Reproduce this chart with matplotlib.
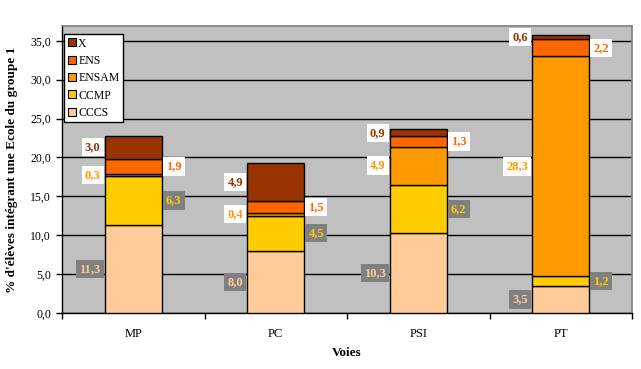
import numpy as np
import matplotlib.pyplot as plt
from matplotlib.lines import Line2D

# Données
voies = ['MP', 'PC', 'PSI', 'PT']
series = ['CCCS', 'CCMP', 'ENSAM', 'ENS', 'X']
cccs = [11.3, 8.0, 10.3, 3.5]
ccmp = [6.3, 4.5, 6.2, 1.2]
ensam = [0.3, 0.4, 4.9, 28.3]
ens = [1.9, 1.5, 1.3, 2.2]
x_ecole = [3.0, 4.9, 0.9, 0.6]

couleurs = ['#FFCC99', '#FFCC00', '#FF9900', '#FF6600', '#993300']
# étiquettes : côté (gauche/droite) et fond de la boîte
cotes = ['left', 'right', 'left', 'right', 'left']
fonds = ['#808080', '#808080', 'white', 'white', 'white']

plt.rcParams['font.family'] = ['Liberation Serif', 'DejaVu Serif']

fig = plt.figure(figsize=(6.41, 3.69), dpi=100)
ax = fig.add_axes([62 / 641, 1 - 313 / 369, 570 / 641, 287 / 369])
ax.set_facecolor('#C0C0C0')

pos = np.arange(len(voies))
largeur = 0.4
bas = np.zeros(len(voies))
valeurs = [cccs, ccmp, ensam, ens, x_ecole]

for nom, vals, coul, cote, fond in zip(series, valeurs, couleurs, cotes, fonds):
    vals = np.array(vals)
    ax.bar(pos, vals, largeur, bottom=bas, color=coul, edgecolor='black',
           linewidth=1.0, zorder=3)
    for i, v in enumerate(vals):
        milieu = bas[i] + v / 2
        if cote == 'left':
            xy = (pos[i] - largeur / 2, milieu)
            dx, ha = -3, 'right'
        else:
            xy = (pos[i] + largeur / 2, milieu)
            dx, ha = 3, 'left'
        ax.annotate(f'{v:.1f}'.replace('.', ','), xy=xy, xytext=(dx, 0),
                    textcoords='offset points', ha=ha, va='center',
                    fontsize=9, fontweight='bold', color=coul, zorder=5,
                    bbox=dict(boxstyle='square,pad=0.25', fc=fond, ec='none'))
    bas += vals

ax.set_xlim(-0.5, len(voies) - 0.5)
ax.set_ylim(0, 36.9)
ax.set_yticks(np.arange(0, 36, 5))
ax.set_yticklabels([f'{t:.1f}'.replace('.', ',') for t in np.arange(0, 36, 5)],
                   fontsize=8.5)
ax.yaxis.grid(True, color='black', linewidth=1.0, zorder=0)
ax.set_axisbelow(True)

ax.set_xticks(pos)
ax.set_xticklabels(voies, fontsize=9)
ax.tick_params(axis='x', which='major', length=0, pad=11)
ax.set_xticks(np.arange(-0.5, len(voies), 1), minor=True)
ax.tick_params(axis='x', which='minor', length=4, width=1, direction='out')
ax.tick_params(axis='y', length=4, width=1, direction='out', pad=4)

for s in ['top', 'right']:
    ax.spines[s].set_color('#808080')
    ax.spines[s].set_linewidth(1.2)
for s in ['left', 'bottom']:
    ax.spines[s].set_color('black')
    ax.spines[s].set_linewidth(1.0)

ax.set_xlabel('Voies', fontsize=9.5, fontweight='bold', labelpad=5)
ax.set_ylabel("% d'élèves intégrant une Ecole du groupe 1", fontsize=9.5,
              fontweight='bold', labelpad=9)

# Légende (ordre inversé : X en haut)
poignees = [Line2D([], [], marker='s', linestyle='none', markersize=6,
                   markerfacecolor=c, markeredgecolor='black', markeredgewidth=0.8)
            for c in couleurs]
leg = ax.legend(poignees[::-1], series[::-1], loc='upper left',
                bbox_to_anchor=(0.0035, 0.972), borderaxespad=0,
                fontsize=8.5, frameon=True, fancybox=False, handlelength=0.7,
                handletextpad=0.2, labelspacing=0.45, borderpad=0.3)
leg.get_frame().set_edgecolor('black')
leg.get_frame().set_linewidth(1.0)
leg.get_frame().set_alpha(1)
leg.set_zorder(6)

fig.savefig('out.png', dpi=100)
